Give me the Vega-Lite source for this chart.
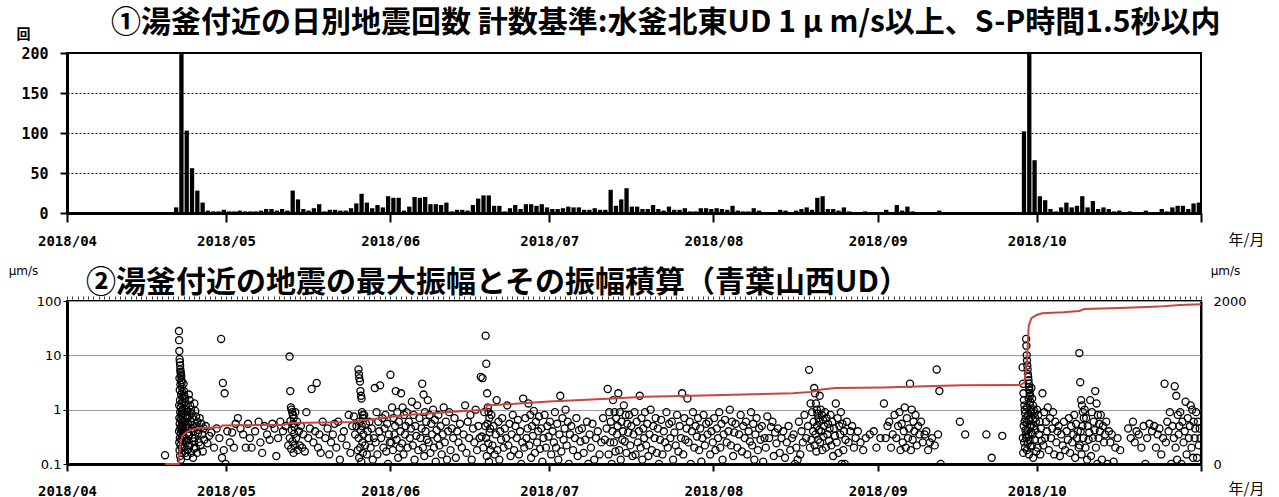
{
"$schema":"https://vega.github.io/schema/vega-lite/v6.json",
"background":"white",
"padding":{"left":7,"top":7,"right":10,"bottom":2},
"spacing":88,
"bounds":"flush",
"config":{"view":{"stroke":"black","strokeWidth":2},"axis":{"labelColor":"black","domainColor":"black","tickColor":"black","titleColor":"black"}},
"datasets":{
"bars":[{"d":"2018/04/21","n":7},{"d":"2018/04/22","n":200},{"d":"2018/04/23","n":103},{"d":"2018/04/24","n":56},{"d":"2018/04/25","n":28},{"d":"2018/04/26","n":13},{"d":"2018/04/27","n":3},{"d":"2018/04/28","n":2},{"d":"2018/04/29","n":2},{"d":"2018/04/30","n":4},
{"d":"2018/05/01","n":2},{"d":"2018/05/02","n":2},{"d":"2018/05/03","n":3},{"d":"2018/05/04","n":2},{"d":"2018/05/05","n":2},{"d":"2018/05/06","n":2},{"d":"2018/05/07","n":3},{"d":"2018/05/08","n":5},{"d":"2018/05/09","n":5},{"d":"2018/05/10","n":3},{"d":"2018/05/11","n":5},{"d":"2018/05/12","n":3},{"d":"2018/05/13","n":28},{"d":"2018/05/14","n":17},{"d":"2018/05/15","n":5},{"d":"2018/05/16","n":3},{"d":"2018/05/17","n":6},{"d":"2018/05/18","n":11},{"d":"2018/05/19","n":2},{"d":"2018/05/20","n":4},{"d":"2018/05/21","n":4},{"d":"2018/05/22","n":3},{"d":"2018/05/23","n":3},{"d":"2018/05/24","n":6},{"d":"2018/05/25","n":12},{"d":"2018/05/26","n":24},{"d":"2018/05/27","n":13},{"d":"2018/05/28","n":6},{"d":"2018/05/29","n":10},{"d":"2018/05/30","n":7},{"d":"2018/05/31","n":21},
{"d":"2018/06/01","n":19},{"d":"2018/06/02","n":19},{"d":"2018/06/03","n":3},{"d":"2018/06/04","n":8},{"d":"2018/06/05","n":20},{"d":"2018/06/06","n":19},{"d":"2018/06/07","n":20},{"d":"2018/06/08","n":11},{"d":"2018/06/09","n":11},{"d":"2018/06/10","n":10},{"d":"2018/06/11","n":13},{"d":"2018/06/12","n":2},{"d":"2018/06/13","n":4},{"d":"2018/06/14","n":4},{"d":"2018/06/15","n":3},{"d":"2018/06/16","n":10},{"d":"2018/06/17","n":18},{"d":"2018/06/18","n":22},{"d":"2018/06/19","n":22},{"d":"2018/06/20","n":9},{"d":"2018/06/21","n":9},{"d":"2018/06/22","n":2},{"d":"2018/06/23","n":6},{"d":"2018/06/24","n":10},{"d":"2018/06/25","n":5},{"d":"2018/06/26","n":11},{"d":"2018/06/27","n":11},{"d":"2018/06/28","n":9},{"d":"2018/06/29","n":11},{"d":"2018/06/30","n":7},
{"d":"2018/07/01","n":5},{"d":"2018/07/02","n":5},{"d":"2018/07/03","n":6},{"d":"2018/07/04","n":8},{"d":"2018/07/05","n":7},{"d":"2018/07/06","n":7},{"d":"2018/07/07","n":4},{"d":"2018/07/08","n":4},{"d":"2018/07/09","n":6},{"d":"2018/07/10","n":4},{"d":"2018/07/11","n":4},{"d":"2018/07/12","n":29},{"d":"2018/07/13","n":9},{"d":"2018/07/14","n":17},{"d":"2018/07/15","n":31},{"d":"2018/07/16","n":8},{"d":"2018/07/17","n":8},{"d":"2018/07/18","n":5},{"d":"2018/07/19","n":5},{"d":"2018/07/20","n":10},{"d":"2018/07/21","n":5},{"d":"2018/07/22","n":3},{"d":"2018/07/23","n":8},{"d":"2018/07/24","n":4},{"d":"2018/07/25","n":4},{"d":"2018/07/26","n":6},{"d":"2018/07/27","n":2},{"d":"2018/07/28","n":2},{"d":"2018/07/29","n":6},{"d":"2018/07/30","n":6},{"d":"2018/07/31","n":5},
{"d":"2018/08/01","n":6},{"d":"2018/08/02","n":5},{"d":"2018/08/03","n":4},{"d":"2018/08/04","n":9},{"d":"2018/08/05","n":3},{"d":"2018/08/06","n":2},{"d":"2018/08/07","n":2},{"d":"2018/08/08","n":6},{"d":"2018/08/09","n":3},{"d":"2018/08/10","n":1},{"d":"2018/08/11","n":1},{"d":"2018/08/12","n":1},{"d":"2018/08/13","n":4},{"d":"2018/08/14","n":3},{"d":"2018/08/15","n":1},{"d":"2018/08/16","n":3},{"d":"2018/08/17","n":5},{"d":"2018/08/18","n":7},{"d":"2018/08/19","n":4},{"d":"2018/08/20","n":19},{"d":"2018/08/21","n":21},{"d":"2018/08/22","n":5},{"d":"2018/08/23","n":5},{"d":"2018/08/24","n":3},{"d":"2018/08/25","n":7},{"d":"2018/08/26","n":2},{"d":"2018/08/27","n":1},{"d":"2018/08/28","n":1},{"d":"2018/08/29","n":2},{"d":"2018/08/30","n":1},
{"d":"2018/09/01","n":1},{"d":"2018/09/02","n":4},{"d":"2018/09/03","n":1},{"d":"2018/09/04","n":10},{"d":"2018/09/05","n":3},{"d":"2018/09/06","n":8},{"d":"2018/09/07","n":2},{"d":"2018/09/08","n":1},{"d":"2018/09/09","n":1},{"d":"2018/09/10","n":1},{"d":"2018/09/11","n":1},{"d":"2018/09/12","n":3},{"d":"2018/09/28","n":102},{"d":"2018/09/29","n":200},{"d":"2018/09/30","n":66},
{"d":"2018/10/01","n":21},{"d":"2018/10/02","n":16},{"d":"2018/10/03","n":5},{"d":"2018/10/04","n":2},{"d":"2018/10/05","n":7},{"d":"2018/10/06","n":13},{"d":"2018/10/07","n":7},{"d":"2018/10/08","n":9},{"d":"2018/10/09","n":21},{"d":"2018/10/10","n":7},{"d":"2018/10/11","n":15},{"d":"2018/10/12","n":5},{"d":"2018/10/13","n":7},{"d":"2018/10/14","n":5},{"d":"2018/10/15","n":2},{"d":"2018/10/16","n":3},{"d":"2018/10/17","n":1},{"d":"2018/10/18","n":2},{"d":"2018/10/19","n":1},{"d":"2018/10/20","n":1},{"d":"2018/10/21","n":3},{"d":"2018/10/22","n":1},{"d":"2018/10/23","n":1},{"d":"2018/10/24","n":5},{"d":"2018/10/25","n":2},{"d":"2018/10/26","n":7},{"d":"2018/10/27","n":9},{"d":"2018/10/28","n":9},{"d":"2018/10/29","n":5},{"d":"2018/10/30","n":12},{"d":"2018/10/31","n":13}],
"cum":[{"t":"2018/4/19 12:00","c":0},{"t":"2018/4/22 2:30","c":0},{"t":"2018/4/22 6:00","c":150},{"t":"2018/4/22 12:00","c":290},{"t":"2018/4/22 20:00","c":345},{"t":"2018/4/23 12:00","c":390},{"t":"2018/4/24 12:00","c":420},{"t":"2018/4/26 0:00","c":440},{"t":"2018/4/29 0:00","c":448},{"t":"2018/4/30 0:00","c":452},{"t":"2018/4/30 8:00","c":472},{"t":"2018/5/12 0:00","c":483},{"t":"2018/5/13 6:00","c":502},{"t":"2018/5/25 0:00","c":515},{"t":"2018/5/26 8:00","c":531},{"t":"2018/6/4 0:00","c":600},{"t":"2018/6/15 0:00","c":650},{"t":"2018/6/19 0:00","c":665},{"t":"2018/6/19 6:00","c":718},{"t":"2018/6/26 0:00","c":745},{"t":"2018/7/1 0:00","c":767},{"t":"2018/7/13 0:00","c":805},{"t":"2018/7/19 0:00","c":824},{"t":"2018/7/28 0:00","c":836},{"t":"2018/8/16 0:00","c":869},{"t":"2018/8/19 12:00","c":885},{"t":"2018/8/21 0:00","c":910},{"t":"2018/8/24 0:00","c":931},{"t":"2018/9/2 0:00","c":940},{"t":"2018/9/10 0:00","c":955},{"t":"2018/9/17 0:00","c":967},{"t":"2018/9/28 0:00","c":971},{"t":"2018/9/28 16:00","c":1000},{"t":"2018/9/29 4:00","c":1300},{"t":"2018/9/29 12:00","c":1700},{"t":"2018/9/30 0:00","c":1790},{"t":"2018/10/1 0:00","c":1829},{"t":"2018/10/2 0:00","c":1849},{"t":"2018/10/6 0:00","c":1861},{"t":"2018/10/9 0:00","c":1878},{"t":"2018/10/10 0:00","c":1902},{"t":"2018/10/18 0:00","c":1918},{"t":"2018/10/24 0:00","c":1931},{"t":"2018/10/28 0:00","c":1951},{"t":"2018/11/1 0:00","c":1959}],
"pts":[{"t":"2018/4/19 12:00","a":0.145},
{"t":"2018/4/22 3:00","a":28},{"t":"2018/4/22 3:20","a":0.4},{"t":"2018/4/22 3:40","a":19},{"t":"2018/4/22 4:00","a":1.2},{"t":"2018/4/22 4:20","a":0.25},{"t":"2018/4/22 4:40","a":12},{"t":"2018/4/22 5:00","a":0.7},{"t":"2018/4/22 5:20","a":3.8},{"t":"2018/4/22 5:40","a":0.18},{"t":"2018/4/22 6:00","a":8.5},{"t":"2018/4/22 6:20","a":0.55},{"t":"2018/4/22 6:40","a":2.3},{"t":"2018/4/22 7:00","a":0.3},{"t":"2018/4/22 7:20","a":7.5},{"t":"2018/4/22 7:40","a":1.5},{"t":"2018/4/22 8:00","a":0.14},{"t":"2018/4/22 8:20","a":6.5},{"t":"2018/4/22 8:40","a":0.9},{"t":"2018/4/22 9:00","a":0.45},{"t":"2018/4/22 9:20","a":5.5},{"t":"2018/4/22 9:40","a":2.9},{"t":"2018/4/22 10:00","a":0.22},{"t":"2018/4/22 10:20","a":5},{"t":"2018/4/22 10:40","a":1.1},{"t":"2018/4/22 11:00","a":0.36},{"t":"2018/4/22 11:20","a":4.7},{"t":"2018/4/22 11:40","a":0.65},{"t":"2018/4/22 12:00","a":0.12},{"t":"2018/4/22 12:20","a":4.4},{"t":"2018/4/22 12:40","a":1.9},{"t":"2018/4/22 13:00","a":0.28},{"t":"2018/4/22 13:20","a":4.1},{"t":"2018/4/22 13:40","a":0.8},{"t":"2018/4/22 14:00","a":0.5},{"t":"2018/4/22 14:20","a":3.5},{"t":"2018/4/22 14:40","a":1.3},{"t":"2018/4/22 15:00","a":0.2},{"t":"2018/4/22 15:20","a":3.2},{"t":"2018/4/22 15:40","a":0.95},{"t":"2018/4/22 16:00","a":0.42},{"t":"2018/4/22 16:20","a":2.6},{"t":"2018/4/22 16:40","a":0.6},{"t":"2018/4/22 17:00","a":0.16},{"t":"2018/4/22 17:20","a":2.1},{"t":"2018/4/22 17:40","a":1.7},{"t":"2018/4/22 18:00","a":0.33},{"t":"2018/4/22 18:20","a":1.4},{"t":"2018/4/22 18:40","a":0.85},{"t":"2018/4/22 19:00","a":0.26},{"t":"2018/4/22 19:20","a":1.0},{"t":"2018/4/22 19:40","a":0.75},{"t":"2018/4/22 20:00","a":0.39},{"t":"2018/4/22 20:20","a":0.48},{"t":"2018/4/22 20:40","a":0.52},
{"t":"2018/4/23 0:00","a":3.0},{"t":"2018/4/23 1:00","a":0.4},{"t":"2018/4/23 2:00","a":2.2},{"t":"2018/4/23 3:00","a":0.2},{"t":"2018/4/23 4:00","a":1.8},{"t":"2018/4/23 5:00","a":0.6},{"t":"2018/4/23 6:00","a":1.6},{"t":"2018/4/23 7:00","a":0.3},{"t":"2018/4/23 8:00","a":1.4},{"t":"2018/4/23 9:00","a":0.16},{"t":"2018/4/23 10:00","a":1.2},{"t":"2018/4/23 11:00","a":0.8},{"t":"2018/4/23 12:00","a":0.25},{"t":"2018/4/23 13:00","a":1.0},{"t":"2018/4/23 14:00","a":0.5},{"t":"2018/4/23 15:00","a":0.9},{"t":"2018/4/23 16:00","a":0.14},{"t":"2018/4/23 17:00","a":0.75},{"t":"2018/4/23 18:00","a":0.37},{"t":"2018/4/23 19:00","a":0.7},{"t":"2018/4/23 20:00","a":0.22},{"t":"2018/4/23 21:00","a":0.55},{"t":"2018/4/23 22:00","a":0.45},{"t":"2018/4/23 23:00","a":0.34},{"t":"2018/4/23 12:30","a":0.27},{"t":"2018/4/23 18:30","a":0.18},
{"t":"2018/4/24 0:00","a":1.9},{"t":"2018/4/24 1:00","a":0.35},{"t":"2018/4/24 3:00","a":1.5},{"t":"2018/4/24 4:00","a":0.22},{"t":"2018/4/24 6:00","a":1.2},{"t":"2018/4/24 7:00","a":0.6},{"t":"2018/4/24 9:00","a":1.0},{"t":"2018/4/24 10:00","a":0.16},{"t":"2018/4/24 12:00","a":0.85},{"t":"2018/4/24 13:00","a":0.45},{"t":"2018/4/24 15:00","a":0.7},{"t":"2018/4/24 16:00","a":0.3},{"t":"2018/4/24 18:00","a":0.52},{"t":"2018/4/24 19:00","a":0.13},{"t":"2018/4/24 21:00","a":0.4},{"t":"2018/4/24 22:00","a":0.26},{"t":"2018/4/24 23:00","a":0.19},
{"t":"2018/4/25 1:00","a":1.3},{"t":"2018/4/25 3:00","a":0.3},{"t":"2018/4/25 5:00","a":0.95},{"t":"2018/4/25 7:00","a":0.2},{"t":"2018/4/25 9:00","a":0.75},{"t":"2018/4/25 11:00","a":0.5},{"t":"2018/4/25 13:00","a":0.16},{"t":"2018/4/25 15:00","a":0.6},{"t":"2018/4/25 17:00","a":0.36},{"t":"2018/4/25 19:00","a":0.42},{"t":"2018/4/25 21:00","a":0.25},
{"t":"2018/4/26 1:00","a":0.7},{"t":"2018/4/26 5:00","a":0.22},{"t":"2018/4/26 8:00","a":0.55},{"t":"2018/4/26 12:00","a":0.35},{"t":"2018/4/26 15:00","a":0.17},{"t":"2018/4/26 19:00","a":0.45},{"t":"2018/4/26 22:00","a":0.28},
{"t":"2018/4/27 4:00","a":0.5},{"t":"2018/4/27 12:00","a":0.24},{"t":"2018/4/27 20:00","a":0.33},{"t":"2018/4/28 6:00","a":0.38},{"t":"2018/4/28 18:00","a":0.2},{"t":"2018/4/29 6:00","a":0.45},{"t":"2018/4/29 18:00","a":0.3},
{"t":"2018/4/30 2:00","a":20},{"t":"2018/4/30 6:00","a":0.13},{"t":"2018/4/30 10:00","a":3.1},{"t":"2018/4/30 14:00","a":0.18},{"t":"2018/4/30 18:00","a":2.0},{"t":"2018/4/30 22:00","a":0.1},
{"t":"2018/5/1 6:00","a":0.4},{"t":"2018/5/1 18:00","a":0.25},{"t":"2018/5/2 4:00","a":0.38},{"t":"2018/5/2 12:00","a":0.2},{"t":"2018/5/2 20:00","a":0.55},{"t":"2018/5/3 6:00","a":0.7},{"t":"2018/5/3 18:00","a":0.45},{"t":"2018/5/4 6:00","a":0.35},{"t":"2018/5/4 18:00","a":0.2},{"t":"2018/5/5 4:00","a":0.55},{"t":"2018/5/5 12:00","a":0.3},{"t":"2018/5/5 20:00","a":0.2},{"t":"2018/5/6 12:00","a":0.4},{"t":"2018/5/7 4:00","a":0.6},{"t":"2018/5/7 12:00","a":0.25},{"t":"2018/5/7 20:00","a":0.16},{"t":"2018/5/8 6:00","a":0.5},{"t":"2018/5/8 18:00","a":0.35},{"t":"2018/5/9 6:00","a":0.28},{"t":"2018/5/9 18:00","a":0.55},{"t":"2018/5/10 4:00","a":0.45},{"t":"2018/5/10 12:00","a":0.14},{"t":"2018/5/10 20:00","a":0.3},{"t":"2018/5/11 6:00","a":0.6},{"t":"2018/5/11 18:00","a":0.4},{"t":"2018/5/12 6:00","a":0.5},{"t":"2018/5/12 18:00","a":0.22},
{"t":"2018/5/13 0:00","a":9.5},{"t":"2018/5/13 1:00","a":0.3},{"t":"2018/5/13 3:00","a":2.2},{"t":"2018/5/13 4:00","a":0.62},{"t":"2018/5/13 6:00","a":1.1},{"t":"2018/5/13 7:00","a":0.19},{"t":"2018/5/13 9:00","a":1.0},{"t":"2018/5/13 10:00","a":0.42},{"t":"2018/5/13 12:00","a":0.9},{"t":"2018/5/13 13:00","a":0.26},{"t":"2018/5/13 15:00","a":0.8},{"t":"2018/5/13 16:00","a":0.55},{"t":"2018/5/13 18:00","a":0.16},{"t":"2018/5/13 19:00","a":0.7},{"t":"2018/5/13 21:00","a":0.36},{"t":"2018/5/13 22:00","a":0.48},{"t":"2018/5/13 23:00","a":0.22},
{"t":"2018/5/14 2:00","a":0.9},{"t":"2018/5/14 6:00","a":0.3},{"t":"2018/5/14 10:00","a":0.6},{"t":"2018/5/14 14:00","a":0.18},{"t":"2018/5/14 18:00","a":0.4},{"t":"2018/5/14 22:00","a":0.22},{"t":"2018/5/15 3:00","a":0.5},{"t":"2018/5/15 9:00","a":0.2},{"t":"2018/5/15 15:00","a":0.35},{"t":"2018/5/15 21:00","a":0.17},{"t":"2018/5/16 4:00","a":0.9},{"t":"2018/5/16 12:00","a":0.3},{"t":"2018/5/16 20:00","a":0.45},{"t":"2018/5/17 4:00","a":2.4},{"t":"2018/5/17 12:00","a":0.25},{"t":"2018/5/17 20:00","a":0.4},{"t":"2018/5/18 3:00","a":3.1},{"t":"2018/5/18 9:00","a":0.2},{"t":"2018/5/18 15:00","a":0.35},{"t":"2018/5/18 21:00","a":0.16},{"t":"2018/5/19 6:00","a":0.6},{"t":"2018/5/19 18:00","a":0.3},{"t":"2018/5/20 4:00","a":0.45},{"t":"2018/5/20 12:00","a":0.15},{"t":"2018/5/20 20:00","a":0.25},{"t":"2018/5/21 4:00","a":0.35},{"t":"2018/5/21 12:00","a":0.55},{"t":"2018/5/21 20:00","a":0.2},{"t":"2018/5/22 4:00","a":0.6},{"t":"2018/5/22 12:00","a":0.12},{"t":"2018/5/22 20:00","a":0.3},{"t":"2018/5/23 6:00","a":0.4},{"t":"2018/5/23 18:00","a":0.22},{"t":"2018/5/24 4:00","a":0.8},{"t":"2018/5/24 12:00","a":0.16},{"t":"2018/5/24 20:00","a":0.5},{"t":"2018/5/25 3:00","a":0.75},{"t":"2018/5/25 9:00","a":0.35},{"t":"2018/5/25 15:00","a":0.5},{"t":"2018/5/25 21:00","a":0.18},
{"t":"2018/5/26 0:00","a":5.5},{"t":"2018/5/26 1:00","a":0.3},{"t":"2018/5/26 2:00","a":4.5},{"t":"2018/5/26 3:00","a":0.13},{"t":"2018/5/26 4:00","a":3.8},{"t":"2018/5/26 6:00","a":0.6},{"t":"2018/5/26 7:00","a":3.3},{"t":"2018/5/26 8:00","a":0.2},{"t":"2018/5/26 9:00","a":2.2},{"t":"2018/5/26 10:00","a":0.42},{"t":"2018/5/26 12:00","a":1.8},{"t":"2018/5/26 13:00","a":0.11},{"t":"2018/5/26 14:00","a":1.6},{"t":"2018/5/26 15:00","a":0.5},{"t":"2018/5/26 16:00","a":0.9},{"t":"2018/5/26 18:00","a":0.25},{"t":"2018/5/26 19:00","a":0.8},{"t":"2018/5/26 20:00","a":0.16},{"t":"2018/5/26 21:00","a":0.7},{"t":"2018/5/26 22:00","a":0.35},
{"t":"2018/5/27 2:00","a":0.8},{"t":"2018/5/27 6:00","a":0.22},{"t":"2018/5/27 10:00","a":0.55},{"t":"2018/5/27 14:00","a":0.15},{"t":"2018/5/27 18:00","a":0.4},{"t":"2018/5/27 22:00","a":0.3},{"t":"2018/5/28 2:00","a":0.6},{"t":"2018/5/28 7:00","a":0.2},{"t":"2018/5/28 12:00","a":0.45},{"t":"2018/5/28 17:00","a":0.12},{"t":"2018/5/28 22:00","a":0.3},{"t":"2018/5/29 2:00","a":2.5},{"t":"2018/5/29 6:00","a":0.25},{"t":"2018/5/29 10:00","a":0.9},{"t":"2018/5/29 14:00","a":0.15},{"t":"2018/5/29 18:00","a":0.6},{"t":"2018/5/29 22:00","a":0.4},{"t":"2018/5/30 2:00","a":2.8},{"t":"2018/5/30 7:00","a":0.3},{"t":"2018/5/30 12:00","a":0.7},{"t":"2018/5/30 17:00","a":0.2},{"t":"2018/5/30 22:00","a":0.45},{"t":"2018/5/31 2:00","a":0.8},{"t":"2018/5/31 6:00","a":0.17},{"t":"2018/5/31 10:00","a":0.55},{"t":"2018/5/31 14:00","a":0.1},{"t":"2018/5/31 18:00","a":0.35},{"t":"2018/5/31 22:00","a":0.25},
{"t":"2018/6/1 1:00","a":4.4},{"t":"2018/6/1 5:00","a":0.25},{"t":"2018/6/1 8:00","a":1.1},{"t":"2018/6/1 12:00","a":0.18},{"t":"2018/6/1 15:00","a":0.7},{"t":"2018/6/1 19:00","a":0.35},{"t":"2018/6/1 22:00","a":0.5},{"t":"2018/6/2 1:00","a":2.2},{"t":"2018/6/2 5:00","a":0.28},{"t":"2018/6/2 8:00","a":0.9},{"t":"2018/6/2 12:00","a":0.13},{"t":"2018/6/2 15:00","a":0.6},{"t":"2018/6/2 19:00","a":0.2},{"t":"2018/6/2 22:00","a":0.4},{"t":"2018/6/3 1:00","a":2.0},{"t":"2018/6/3 5:00","a":0.24},{"t":"2018/6/3 8:00","a":1.1},{"t":"2018/6/3 12:00","a":0.15},{"t":"2018/6/3 15:00","a":0.8},{"t":"2018/6/3 19:00","a":0.35},{"t":"2018/6/3 22:00","a":0.5},
{"t":"2018/6/4 2:00","a":0.9},{"t":"2018/6/4 7:00","a":0.2},{"t":"2018/6/4 12:00","a":0.6},{"t":"2018/6/4 17:00","a":0.3},{"t":"2018/6/4 22:00","a":0.45},{"t":"2018/6/5 2:00","a":1.4},{"t":"2018/6/5 6:00","a":0.22},{"t":"2018/6/5 10:00","a":0.8},{"t":"2018/6/5 14:00","a":0.12},{"t":"2018/6/5 18:00","a":0.5},{"t":"2018/6/5 22:00","a":0.33},{"t":"2018/6/6 2:00","a":1.2},{"t":"2018/6/6 7:00","a":0.18},{"t":"2018/6/6 12:00","a":0.7},{"t":"2018/6/6 17:00","a":0.3},{"t":"2018/6/6 22:00","a":0.45},
{"t":"2018/6/7 1:00","a":3.0},{"t":"2018/6/7 4:00","a":0.2},{"t":"2018/6/7 7:00","a":1.9},{"t":"2018/6/7 10:00","a":0.14},{"t":"2018/6/7 13:00","a":0.9},{"t":"2018/6/7 16:00","a":0.4},{"t":"2018/6/7 19:00","a":0.6},{"t":"2018/6/7 22:00","a":0.28},{"t":"2018/6/8 2:00","a":1.5},{"t":"2018/6/8 6:00","a":0.25},{"t":"2018/6/8 10:00","a":0.8},{"t":"2018/6/8 14:00","a":0.16},{"t":"2018/6/8 18:00","a":0.55},{"t":"2018/6/8 22:00","a":0.35},{"t":"2018/6/9 2:00","a":1.0},{"t":"2018/6/9 6:00","a":0.2},{"t":"2018/6/9 10:00","a":0.65},{"t":"2018/6/9 14:00","a":0.11},{"t":"2018/6/9 18:00","a":0.42},{"t":"2018/6/9 22:00","a":0.3},
{"t":"2018/6/10 2:00","a":0.8},{"t":"2018/6/10 7:00","a":0.22},{"t":"2018/6/10 12:00","a":0.5},{"t":"2018/6/10 17:00","a":0.15},{"t":"2018/6/10 22:00","a":0.35},{"t":"2018/6/11 2:00","a":1.1},{"t":"2018/6/11 7:00","a":0.25},{"t":"2018/6/11 12:00","a":0.6},{"t":"2018/6/11 17:00","a":0.12},{"t":"2018/6/11 22:00","a":0.4},{"t":"2018/6/12 3:00","a":0.9},{"t":"2018/6/12 9:00","a":0.18},{"t":"2018/6/12 15:00","a":0.45},{"t":"2018/6/12 21:00","a":0.3},{"t":"2018/6/13 3:00","a":0.7},{"t":"2018/6/13 9:00","a":0.13},{"t":"2018/6/13 15:00","a":0.4},{"t":"2018/6/13 21:00","a":0.25},{"t":"2018/6/14 4:00","a":0.55},{"t":"2018/6/14 12:00","a":0.2},{"t":"2018/6/14 20:00","a":0.35},{"t":"2018/6/15 3:00","a":1.2},{"t":"2018/6/15 9:00","a":0.16},{"t":"2018/6/15 15:00","a":0.6},{"t":"2018/6/15 21:00","a":0.3},{"t":"2018/6/16 3:00","a":0.8},{"t":"2018/6/16 9:00","a":0.12},{"t":"2018/6/16 15:00","a":0.45},{"t":"2018/6/16 21:00","a":0.25},{"t":"2018/6/17 3:00","a":1.0},{"t":"2018/6/17 9:00","a":0.18},{"t":"2018/6/17 15:00","a":0.5},{"t":"2018/6/17 21:00","a":0.3},
{"t":"2018/6/18 2:00","a":4.0},{"t":"2018/6/18 6:00","a":0.32},{"t":"2018/6/18 10:00","a":3.8},{"t":"2018/6/18 14:00","a":0.2},{"t":"2018/6/18 18:00","a":0.9},{"t":"2018/6/18 22:00","a":0.5},
{"t":"2018/6/19 0:00","a":23},{"t":"2018/6/19 2:00","a":0.3},{"t":"2018/6/19 3:00","a":7},{"t":"2018/6/19 5:00","a":0.14},{"t":"2018/6/19 7:00","a":2.0},{"t":"2018/6/19 8:00","a":0.55},{"t":"2018/6/19 10:00","a":1.1},{"t":"2018/6/19 12:00","a":0.24},{"t":"2018/6/19 13:00","a":0.9},{"t":"2018/6/19 15:00","a":0.11},{"t":"2018/6/19 17:00","a":0.7},{"t":"2018/6/19 18:00","a":0.38},{"t":"2018/6/19 20:00","a":0.45},{"t":"2018/6/19 22:00","a":0.18},
{"t":"2018/6/20 2:00","a":0.8},{"t":"2018/6/20 7:00","a":0.22},{"t":"2018/6/20 12:00","a":0.5},{"t":"2018/6/20 17:00","a":0.15},{"t":"2018/6/20 22:00","a":0.35},{"t":"2018/6/21 2:00","a":1.5},{"t":"2018/6/21 6:00","a":0.18},{"t":"2018/6/21 10:00","a":0.6},{"t":"2018/6/21 14:00","a":0.12},{"t":"2018/6/21 18:00","a":0.4},{"t":"2018/6/21 22:00","a":0.28},{"t":"2018/6/22 3:00","a":0.7},{"t":"2018/6/22 9:00","a":0.2},{"t":"2018/6/22 15:00","a":0.45},{"t":"2018/6/22 21:00","a":0.3},{"t":"2018/6/23 2:00","a":1.2},{"t":"2018/6/23 7:00","a":0.22},{"t":"2018/6/23 12:00","a":0.55},{"t":"2018/6/23 17:00","a":0.14},{"t":"2018/6/23 22:00","a":0.35},{"t":"2018/6/24 3:00","a":0.8},{"t":"2018/6/24 9:00","a":0.18},{"t":"2018/6/24 15:00","a":0.5},{"t":"2018/6/24 21:00","a":0.3},{"t":"2018/6/25 2:00","a":0.65},{"t":"2018/6/25 7:00","a":0.15},{"t":"2018/6/25 12:00","a":0.4},{"t":"2018/6/25 17:00","a":0.1},{"t":"2018/6/25 22:00","a":0.25},
{"t":"2018/6/26 2:00","a":1.6},{"t":"2018/6/26 7:00","a":0.2},{"t":"2018/6/26 12:00","a":0.7},{"t":"2018/6/26 17:00","a":0.3},{"t":"2018/6/26 22:00","a":0.45},{"t":"2018/6/27 2:00","a":1.3},{"t":"2018/6/27 6:00","a":0.22},{"t":"2018/6/27 10:00","a":0.8},{"t":"2018/6/27 14:00","a":0.13},{"t":"2018/6/27 18:00","a":0.5},{"t":"2018/6/27 22:00","a":0.33},{"t":"2018/6/28 2:00","a":0.95},{"t":"2018/6/28 7:00","a":0.16},{"t":"2018/6/28 12:00","a":0.6},{"t":"2018/6/28 17:00","a":0.25},{"t":"2018/6/28 22:00","a":0.4},{"t":"2018/6/29 2:00","a":0.75},{"t":"2018/6/29 7:00","a":0.19},{"t":"2018/6/29 12:00","a":0.45},{"t":"2018/6/29 17:00","a":0.11},{"t":"2018/6/29 22:00","a":0.3},{"t":"2018/6/30 3:00","a":0.8},{"t":"2018/6/30 9:00","a":0.2},{"t":"2018/6/30 15:00","a":0.5},{"t":"2018/6/30 21:00","a":0.32},
{"t":"2018/7/1 3:00","a":0.6},{"t":"2018/7/1 9:00","a":0.15},{"t":"2018/7/1 15:00","a":0.4},{"t":"2018/7/1 21:00","a":0.25},{"t":"2018/7/2 2:00","a":0.9},{"t":"2018/7/2 7:00","a":0.2},{"t":"2018/7/2 12:00","a":0.55},{"t":"2018/7/2 17:00","a":0.12},{"t":"2018/7/2 22:00","a":0.35},{"t":"2018/7/3 2:00","a":1.8},{"t":"2018/7/3 7:00","a":0.17},{"t":"2018/7/3 12:00","a":0.7},{"t":"2018/7/3 17:00","a":0.28},{"t":"2018/7/3 22:00","a":0.45},{"t":"2018/7/4 2:00","a":1.0},{"t":"2018/7/4 7:00","a":0.22},{"t":"2018/7/4 12:00","a":0.6},{"t":"2018/7/4 17:00","a":0.1},{"t":"2018/7/4 22:00","a":0.35},{"t":"2018/7/5 4:00","a":0.5},{"t":"2018/7/5 12:00","a":0.18},{"t":"2018/7/5 20:00","a":0.3},{"t":"2018/7/6 3:00","a":0.7},{"t":"2018/7/6 9:00","a":0.14},{"t":"2018/7/6 15:00","a":0.42},{"t":"2018/7/6 21:00","a":0.26},{"t":"2018/7/7 4:00","a":0.45},{"t":"2018/7/7 12:00","a":0.16},{"t":"2018/7/7 20:00","a":0.28},{"t":"2018/7/8 3:00","a":0.6},{"t":"2018/7/8 9:00","a":0.1},{"t":"2018/7/8 15:00","a":0.35},{"t":"2018/7/8 21:00","a":0.2},{"t":"2018/7/9 4:00","a":0.55},{"t":"2018/7/9 12:00","a":0.12},{"t":"2018/7/9 20:00","a":0.3},{"t":"2018/7/10 4:00","a":0.4},{"t":"2018/7/10 12:00","a":0.15},{"t":"2018/7/10 20:00","a":0.25},{"t":"2018/7/11 4:00","a":0.7},{"t":"2018/7/11 12:00","a":0.28},{"t":"2018/7/11 20:00","a":0.45},
{"t":"2018/7/12 1:00","a":2.4},{"t":"2018/7/12 5:00","a":0.15},{"t":"2018/7/12 8:00","a":0.9},{"t":"2018/7/12 12:00","a":0.25},{"t":"2018/7/12 15:00","a":0.6},{"t":"2018/7/12 19:00","a":0.1},{"t":"2018/7/12 22:00","a":0.4},{"t":"2018/7/13 1:00","a":1.5},{"t":"2018/7/13 5:00","a":0.25},{"t":"2018/7/13 8:00","a":0.9},{"t":"2018/7/13 12:00","a":0.17},{"t":"2018/7/13 15:00","a":0.7},{"t":"2018/7/13 19:00","a":0.35},{"t":"2018/7/13 22:00","a":0.5},{"t":"2018/7/14 1:00","a":2.0},{"t":"2018/7/14 5:00","a":0.18},{"t":"2018/7/14 8:00","a":0.9},{"t":"2018/7/14 12:00","a":0.12},{"t":"2018/7/14 15:00","a":0.6},{"t":"2018/7/14 19:00","a":0.28},{"t":"2018/7/14 22:00","a":0.4},{"t":"2018/7/15 2:00","a":1.2},{"t":"2018/7/15 6:00","a":0.26},{"t":"2018/7/15 10:00","a":0.8},{"t":"2018/7/15 14:00","a":0.16},{"t":"2018/7/15 18:00","a":0.55},{"t":"2018/7/15 22:00","a":0.38},
{"t":"2018/7/16 2:00","a":0.8},{"t":"2018/7/16 7:00","a":0.22},{"t":"2018/7/16 12:00","a":0.5},{"t":"2018/7/16 17:00","a":0.14},{"t":"2018/7/16 22:00","a":0.35},{"t":"2018/7/17 2:00","a":0.9},{"t":"2018/7/17 7:00","a":0.15},{"t":"2018/7/17 12:00","a":0.6},{"t":"2018/7/17 17:00","a":0.25},{"t":"2018/7/17 22:00","a":0.4},{"t":"2018/7/18 2:00","a":1.8},{"t":"2018/7/18 6:00","a":0.2},{"t":"2018/7/18 10:00","a":0.7},{"t":"2018/7/18 14:00","a":0.12},{"t":"2018/7/18 18:00","a":0.45},{"t":"2018/7/18 22:00","a":0.3},{"t":"2018/7/19 2:00","a":0.9},{"t":"2018/7/19 7:00","a":0.22},{"t":"2018/7/19 12:00","a":0.55},{"t":"2018/7/19 17:00","a":0.14},{"t":"2018/7/19 22:00","a":0.35},{"t":"2018/7/20 3:00","a":1.0},{"t":"2018/7/20 9:00","a":0.18},{"t":"2018/7/20 15:00","a":0.5},{"t":"2018/7/20 21:00","a":0.3},{"t":"2018/7/21 2:00","a":0.7},{"t":"2018/7/21 7:00","a":0.16},{"t":"2018/7/21 12:00","a":0.45},{"t":"2018/7/21 17:00","a":0.1},{"t":"2018/7/21 22:00","a":0.28},{"t":"2018/7/22 3:00","a":0.65},{"t":"2018/7/22 9:00","a":0.15},{"t":"2018/7/22 15:00","a":0.4},{"t":"2018/7/22 21:00","a":0.25},{"t":"2018/7/23 3:00","a":0.9},{"t":"2018/7/23 9:00","a":0.2},{"t":"2018/7/23 15:00","a":0.55},{"t":"2018/7/23 21:00","a":0.3},{"t":"2018/7/24 3:00","a":0.6},{"t":"2018/7/24 9:00","a":0.12},{"t":"2018/7/24 15:00","a":0.38},{"t":"2018/7/24 21:00","a":0.22},{"t":"2018/7/25 3:00","a":0.8},{"t":"2018/7/25 9:00","a":0.17},{"t":"2018/7/25 15:00","a":0.5},{"t":"2018/7/25 21:00","a":0.3},
{"t":"2018/7/26 2:00","a":2.0},{"t":"2018/7/26 7:00","a":0.15},{"t":"2018/7/26 12:00","a":0.7},{"t":"2018/7/26 17:00","a":0.28},{"t":"2018/7/26 22:00","a":0.45},{"t":"2018/7/27 2:00","a":1.6},{"t":"2018/7/27 7:00","a":0.25},{"t":"2018/7/27 12:00","a":0.6},{"t":"2018/7/27 17:00","a":0.1},{"t":"2018/7/27 22:00","a":0.4},{"t":"2018/7/28 3:00","a":0.9},{"t":"2018/7/28 9:00","a":0.2},{"t":"2018/7/28 15:00","a":0.5},{"t":"2018/7/28 21:00","a":0.32},{"t":"2018/7/29 2:00","a":0.7},{"t":"2018/7/29 7:00","a":0.18},{"t":"2018/7/29 12:00","a":0.45},{"t":"2018/7/29 17:00","a":0.11},{"t":"2018/7/29 22:00","a":0.3},{"t":"2018/7/30 3:00","a":0.8},{"t":"2018/7/30 9:00","a":0.22},{"t":"2018/7/30 15:00","a":0.55},{"t":"2018/7/30 21:00","a":0.35},{"t":"2018/7/31 3:00","a":0.6},{"t":"2018/7/31 9:00","a":0.15},{"t":"2018/7/31 15:00","a":0.4},{"t":"2018/7/31 21:00","a":0.25},
{"t":"2018/8/1 3:00","a":0.7},{"t":"2018/8/1 9:00","a":0.18},{"t":"2018/8/1 15:00","a":0.45},{"t":"2018/8/1 21:00","a":0.3},{"t":"2018/8/2 2:00","a":0.9},{"t":"2018/8/2 7:00","a":0.2},{"t":"2018/8/2 12:00","a":0.55},{"t":"2018/8/2 17:00","a":0.12},{"t":"2018/8/2 22:00","a":0.35},{"t":"2018/8/3 4:00","a":0.65},{"t":"2018/8/3 12:00","a":0.25},{"t":"2018/8/3 20:00","a":0.4},{"t":"2018/8/4 2:00","a":1.0},{"t":"2018/8/4 7:00","a":0.22},{"t":"2018/8/4 12:00","a":0.6},{"t":"2018/8/4 17:00","a":0.14},{"t":"2018/8/4 22:00","a":0.38},{"t":"2018/8/5 4:00","a":0.55},{"t":"2018/8/5 12:00","a":0.2},{"t":"2018/8/5 20:00","a":0.35},{"t":"2018/8/6 3:00","a":0.8},{"t":"2018/8/6 9:00","a":0.17},{"t":"2018/8/6 15:00","a":0.5},{"t":"2018/8/6 21:00","a":0.3},{"t":"2018/8/7 3:00","a":0.6},{"t":"2018/8/7 9:00","a":0.15},{"t":"2018/8/7 15:00","a":0.4},{"t":"2018/8/7 21:00","a":0.26},{"t":"2018/8/8 2:00","a":0.9},{"t":"2018/8/8 7:00","a":0.22},{"t":"2018/8/8 12:00","a":0.55},{"t":"2018/8/8 17:00","a":0.12},{"t":"2018/8/8 22:00","a":0.35},{"t":"2018/8/9 3:00","a":0.7},{"t":"2018/8/9 9:00","a":0.18},{"t":"2018/8/9 15:00","a":0.45},{"t":"2018/8/9 21:00","a":0.28},{"t":"2018/8/10 3:00","a":0.5},{"t":"2018/8/10 9:00","a":0.11},{"t":"2018/8/10 15:00","a":0.3},{"t":"2018/8/10 21:00","a":0.2},{"t":"2018/8/11 4:00","a":0.75},{"t":"2018/8/11 12:00","a":0.3},{"t":"2018/8/11 20:00","a":0.48},{"t":"2018/8/12 3:00","a":0.6},{"t":"2018/8/12 9:00","a":0.14},{"t":"2018/8/12 15:00","a":0.38},{"t":"2018/8/12 21:00","a":0.24},{"t":"2018/8/13 4:00","a":0.45},{"t":"2018/8/13 12:00","a":0.16},{"t":"2018/8/13 20:00","a":0.3},{"t":"2018/8/14 4:00","a":0.4},{"t":"2018/8/14 12:00","a":0.13},{"t":"2018/8/14 20:00","a":0.25},{"t":"2018/8/15 4:00","a":0.5},{"t":"2018/8/15 12:00","a":0.18},{"t":"2018/8/15 20:00","a":0.3},{"t":"2018/8/16 3:00","a":0.35},{"t":"2018/8/16 9:00","a":0.1},{"t":"2018/8/16 15:00","a":0.2},{"t":"2018/8/16 21:00","a":0.12},{"t":"2018/8/17 3:00","a":0.6},{"t":"2018/8/17 9:00","a":0.15},{"t":"2018/8/17 15:00","a":0.4},{"t":"2018/8/17 21:00","a":0.25},{"t":"2018/8/18 4:00","a":0.8},{"t":"2018/8/18 12:00","a":0.3},{"t":"2018/8/18 20:00","a":0.5},
{"t":"2018/8/19 1:00","a":5.4},{"t":"2018/8/19 5:00","a":0.2},{"t":"2018/8/19 8:00","a":1.3},{"t":"2018/8/19 12:00","a":0.28},{"t":"2018/8/19 15:00","a":0.9},{"t":"2018/8/19 19:00","a":0.4},{"t":"2018/8/19 22:00","a":0.6},
{"t":"2018/8/20 0:00","a":2.5},{"t":"2018/8/20 2:00","a":0.22},{"t":"2018/8/20 4:00","a":2.0},{"t":"2018/8/20 6:00","a":0.35},{"t":"2018/8/20 8:00","a":1.3},{"t":"2018/8/20 10:00","a":0.17},{"t":"2018/8/20 12:00","a":1.0},{"t":"2018/8/20 13:00","a":0.5},{"t":"2018/8/20 15:00","a":0.85},{"t":"2018/8/20 17:00","a":0.28},{"t":"2018/8/20 19:00","a":0.7},{"t":"2018/8/20 21:00","a":0.42},{"t":"2018/8/20 23:00","a":0.6},
{"t":"2018/8/21 1:00","a":1.8},{"t":"2018/8/21 3:00","a":0.25},{"t":"2018/8/21 6:00","a":1.0},{"t":"2018/8/21 8:00","a":0.4},{"t":"2018/8/21 11:00","a":0.8},{"t":"2018/8/21 13:00","a":0.18},{"t":"2018/8/21 16:00","a":0.65},{"t":"2018/8/21 18:00","a":0.32},{"t":"2018/8/21 21:00","a":0.5},
{"t":"2018/8/22 1:00","a":0.9},{"t":"2018/8/22 5:00","a":0.2},{"t":"2018/8/22 8:00","a":0.7},{"t":"2018/8/22 12:00","a":0.35},{"t":"2018/8/22 15:00","a":0.55},{"t":"2018/8/22 19:00","a":0.27},{"t":"2018/8/22 22:00","a":0.45},{"t":"2018/8/23 2:00","a":0.8},{"t":"2018/8/23 6:00","a":0.22},{"t":"2018/8/23 10:00","a":0.6},{"t":"2018/8/23 14:00","a":0.14},{"t":"2018/8/23 18:00","a":0.45},{"t":"2018/8/23 22:00","a":0.33},{"t":"2018/8/24 2:00","a":1.3},{"t":"2018/8/24 6:00","a":0.25},{"t":"2018/8/24 10:00","a":0.7},{"t":"2018/8/24 14:00","a":0.16},{"t":"2018/8/24 18:00","a":0.5},{"t":"2018/8/24 22:00","a":0.35},{"t":"2018/8/25 1:00","a":0.9},{"t":"2018/8/25 5:00","a":0.1},{"t":"2018/8/25 8:00","a":0.55},{"t":"2018/8/25 12:00","a":0.18},{"t":"2018/8/25 15:00","a":0.4},{"t":"2018/8/25 19:00","a":0.1},{"t":"2018/8/25 22:00","a":0.28},
{"t":"2018/8/26 4:00","a":0.6},{"t":"2018/8/26 12:00","a":0.25},{"t":"2018/8/26 20:00","a":0.4},{"t":"2018/8/27 4:00","a":0.5},{"t":"2018/8/27 12:00","a":0.2},{"t":"2018/8/27 20:00","a":0.3},{"t":"2018/8/28 6:00","a":0.4},{"t":"2018/8/28 18:00","a":0.25},{"t":"2018/8/29 6:00","a":0.18},{"t":"2018/8/29 18:00","a":0.3},{"t":"2018/8/30 12:00","a":0.35},{"t":"2018/8/31 6:00","a":0.4},{"t":"2018/8/31 18:00","a":0.2},
{"t":"2018/9/1 12:00","a":0.3},{"t":"2018/9/2 4:00","a":1.3},{"t":"2018/9/2 12:00","a":0.3},{"t":"2018/9/2 20:00","a":0.5},{"t":"2018/9/3 4:00","a":0.6},{"t":"2018/9/3 12:00","a":0.2},{"t":"2018/9/3 20:00","a":0.35},{"t":"2018/9/4 4:00","a":0.8},{"t":"2018/9/4 12:00","a":0.3},{"t":"2018/9/4 20:00","a":0.5},{"t":"2018/9/5 2:00","a":0.9},{"t":"2018/9/5 7:00","a":0.18},{"t":"2018/9/5 12:00","a":0.55},{"t":"2018/9/5 17:00","a":0.25},{"t":"2018/9/5 22:00","a":0.4},{"t":"2018/9/6 2:00","a":1.1},{"t":"2018/9/6 7:00","a":0.2},{"t":"2018/9/6 12:00","a":0.7},{"t":"2018/9/6 17:00","a":0.3},{"t":"2018/9/6 22:00","a":0.45},{"t":"2018/9/7 2:00","a":3.0},{"t":"2018/9/7 6:00","a":0.18},{"t":"2018/9/7 10:00","a":1.0},{"t":"2018/9/7 14:00","a":0.28},{"t":"2018/9/7 18:00","a":0.6},{"t":"2018/9/7 22:00","a":0.4},{"t":"2018/9/8 3:00","a":0.8},{"t":"2018/9/8 9:00","a":0.22},{"t":"2018/9/8 15:00","a":0.5},{"t":"2018/9/8 21:00","a":0.35},{"t":"2018/9/9 4:00","a":0.6},{"t":"2018/9/9 12:00","a":0.25},{"t":"2018/9/9 20:00","a":0.35},{"t":"2018/9/10 4:00","a":0.4},{"t":"2018/9/10 12:00","a":0.18},{"t":"2018/9/10 20:00","a":0.25},{"t":"2018/9/11 6:00","a":0.3},{"t":"2018/9/11 18:00","a":0.22},{"t":"2018/9/12 3:00","a":5.5},{"t":"2018/9/12 9:00","a":0.35},{"t":"2018/9/12 15:00","a":2.2},{"t":"2018/9/12 21:00","a":0.1},{"t":"2018/9/16 12:00","a":0.6},{"t":"2018/9/17 12:00","a":0.35},{"t":"2018/9/21 12:00","a":0.35},{"t":"2018/9/22 12:00","a":0.13},{"t":"2018/9/24 12:00","a":0.33},
{"t":"2018/9/28 8:00","a":6},{"t":"2018/9/28 9:00","a":0.3},{"t":"2018/9/28 10:00","a":3},{"t":"2018/9/28 11:00","a":0.16},{"t":"2018/9/28 12:00","a":2},{"t":"2018/9/28 13:00","a":0.5},{"t":"2018/9/28 14:00","a":1.5},{"t":"2018/9/28 15:00","a":0.25},{"t":"2018/9/28 16:00","a":1.2},{"t":"2018/9/28 17:00","a":0.6},{"t":"2018/9/28 18:00","a":1.0},{"t":"2018/9/28 19:00","a":0.2},{"t":"2018/9/28 20:00","a":0.85},{"t":"2018/9/28 21:00","a":0.42},{"t":"2018/9/28 22:00","a":0.7},{"t":"2018/9/28 23:00","a":0.35},
{"t":"2018/9/29 0:00","a":20},{"t":"2018/9/29 0:40","a":0.3},{"t":"2018/9/29 1:20","a":15},{"t":"2018/9/29 2:00","a":0.58},{"t":"2018/9/29 2:40","a":10},{"t":"2018/9/29 3:20","a":0.18},{"t":"2018/9/29 4:00","a":8},{"t":"2018/9/29 4:40","a":1.1},{"t":"2018/9/29 5:20","a":6.5},{"t":"2018/9/29 6:00","a":0.42},{"t":"2018/9/29 6:40","a":5.5},{"t":"2018/9/29 7:20","a":0.24},{"t":"2018/9/29 8:00","a":4.5},{"t":"2018/9/29 8:40","a":0.8},{"t":"2018/9/29 9:20","a":4},{"t":"2018/9/29 10:00","a":0.34},{"t":"2018/9/29 10:40","a":3.5},{"t":"2018/9/29 11:20","a":1.6},{"t":"2018/9/29 12:00","a":3},{"t":"2018/9/29 12:40","a":0.15},{"t":"2018/9/29 13:20","a":2.6},{"t":"2018/9/29 14:00","a":0.65},{"t":"2018/9/29 14:40","a":2.3},{"t":"2018/9/29 15:20","a":0.27},{"t":"2018/9/29 16:00","a":2},{"t":"2018/9/29 16:40","a":1.25},{"t":"2018/9/29 17:20","a":1.8},{"t":"2018/9/29 18:00","a":0.47},{"t":"2018/9/29 18:40","a":1.4},{"t":"2018/9/29 19:20","a":0.21},{"t":"2018/9/29 20:00","a":1.0},{"t":"2018/9/29 20:40","a":0.9},{"t":"2018/9/29 21:20","a":0.72},{"t":"2018/9/29 22:00","a":0.52},{"t":"2018/9/29 22:40","a":0.38},
{"t":"2018/9/30 0:00","a":2.5},{"t":"2018/9/30 2:00","a":0.22},{"t":"2018/9/30 3:00","a":1.6},{"t":"2018/9/30 5:00","a":0.35},{"t":"2018/9/30 7:00","a":1.2},{"t":"2018/9/30 8:00","a":0.13},{"t":"2018/9/30 10:00","a":1.0},{"t":"2018/9/30 12:00","a":0.5},{"t":"2018/9/30 13:00","a":0.85},{"t":"2018/9/30 15:00","a":0.28},{"t":"2018/9/30 17:00","a":0.7},{"t":"2018/9/30 18:00","a":0.42},{"t":"2018/9/30 20:00","a":0.6},{"t":"2018/9/30 22:00","a":0.17},
{"t":"2018/10/1 1:00","a":1.0},{"t":"2018/10/1 4:00","a":0.2},{"t":"2018/10/1 7:00","a":0.8},{"t":"2018/10/1 10:00","a":0.35},{"t":"2018/10/1 13:00","a":0.6},{"t":"2018/10/1 16:00","a":0.15},{"t":"2018/10/1 19:00","a":0.45},{"t":"2018/10/1 22:00","a":0.27},{"t":"2018/10/2 2:00","a":2.0},{"t":"2018/10/2 6:00","a":0.22},{"t":"2018/10/2 10:00","a":0.9},{"t":"2018/10/2 14:00","a":0.3},{"t":"2018/10/2 18:00","a":0.6},{"t":"2018/10/2 22:00","a":0.4},{"t":"2018/10/3 2:00","a":1.1},{"t":"2018/10/3 7:00","a":0.18},{"t":"2018/10/3 12:00","a":0.7},{"t":"2018/10/3 17:00","a":0.3},{"t":"2018/10/3 22:00","a":0.45},{"t":"2018/10/4 2:00","a":0.9},{"t":"2018/10/4 7:00","a":0.15},{"t":"2018/10/4 12:00","a":0.6},{"t":"2018/10/4 17:00","a":0.25},{"t":"2018/10/4 22:00","a":0.4},{"t":"2018/10/5 3:00","a":0.5},{"t":"2018/10/5 9:00","a":0.14},{"t":"2018/10/5 15:00","a":0.35},{"t":"2018/10/5 21:00","a":0.22},{"t":"2018/10/6 3:00","a":0.6},{"t":"2018/10/6 9:00","a":0.18},{"t":"2018/10/6 15:00","a":0.4},{"t":"2018/10/6 21:00","a":0.28},{"t":"2018/10/7 2:00","a":0.7},{"t":"2018/10/7 7:00","a":0.16},{"t":"2018/10/7 12:00","a":0.5},{"t":"2018/10/7 17:00","a":0.25},{"t":"2018/10/7 22:00","a":0.35},{"t":"2018/10/8 2:00","a":0.8},{"t":"2018/10/8 6:00","a":0.13},{"t":"2018/10/8 10:00","a":0.55},{"t":"2018/10/8 14:00","a":0.3},{"t":"2018/10/8 18:00","a":0.4},{"t":"2018/10/8 22:00","a":0.2},
{"t":"2018/10/9 1:00","a":11},{"t":"2018/10/9 3:00","a":0.22},{"t":"2018/10/9 5:00","a":3.2},{"t":"2018/10/9 7:00","a":0.4},{"t":"2018/10/9 9:00","a":1.5},{"t":"2018/10/9 11:00","a":0.15},{"t":"2018/10/9 13:00","a":1.2},{"t":"2018/10/9 15:00","a":0.5},{"t":"2018/10/9 17:00","a":0.9},{"t":"2018/10/9 19:00","a":0.3},{"t":"2018/10/9 21:00","a":0.7},
{"t":"2018/10/10 1:00","a":1.0},{"t":"2018/10/10 5:00","a":0.2},{"t":"2018/10/10 8:00","a":0.7},{"t":"2018/10/10 12:00","a":0.12},{"t":"2018/10/10 15:00","a":0.5},{"t":"2018/10/10 19:00","a":0.28},{"t":"2018/10/10 22:00","a":0.38},{"t":"2018/10/11 2:00","a":1.5},{"t":"2018/10/11 6:00","a":0.14},{"t":"2018/10/11 10:00","a":0.9},{"t":"2018/10/11 14:00","a":0.3},{"t":"2018/10/11 18:00","a":0.6},{"t":"2018/10/11 22:00","a":0.42},{"t":"2018/10/12 1:00","a":2.2},{"t":"2018/10/12 4:00","a":0.2},{"t":"2018/10/12 7:00","a":1.3},{"t":"2018/10/12 10:00","a":0.1},{"t":"2018/10/12 13:00","a":0.8},{"t":"2018/10/12 16:00","a":0.3},{"t":"2018/10/12 19:00","a":0.55},{"t":"2018/10/12 22:00","a":0.4},
{"t":"2018/10/13 2:00","a":0.8},{"t":"2018/10/13 7:00","a":0.12},{"t":"2018/10/13 12:00","a":0.5},{"t":"2018/10/13 17:00","a":0.25},{"t":"2018/10/13 22:00","a":0.35},{"t":"2018/10/14 3:00","a":0.6},{"t":"2018/10/14 9:00","a":0.1},{"t":"2018/10/14 15:00","a":0.4},{"t":"2018/10/14 21:00","a":0.25},{"t":"2018/10/15 4:00","a":0.35},{"t":"2018/10/15 12:00","a":0.11},{"t":"2018/10/15 20:00","a":0.2},{"t":"2018/10/16 6:00","a":0.3},{"t":"2018/10/16 18:00","a":0.18},{"t":"2018/10/18 6:00","a":0.45},{"t":"2018/10/18 18:00","a":0.3},{"t":"2018/10/19 4:00","a":0.6},{"t":"2018/10/19 12:00","a":0.25},{"t":"2018/10/19 20:00","a":0.4},{"t":"2018/10/20 6:00","a":0.35},{"t":"2018/10/20 18:00","a":0.2},{"t":"2018/10/21 4:00","a":0.5},{"t":"2018/10/21 12:00","a":0.1},{"t":"2018/10/21 20:00","a":0.3},{"t":"2018/10/22 6:00","a":0.55},{"t":"2018/10/22 18:00","a":0.4},{"t":"2018/10/23 4:00","a":0.5},{"t":"2018/10/23 12:00","a":0.2},{"t":"2018/10/23 20:00","a":0.35},{"t":"2018/10/24 4:00","a":0.45},{"t":"2018/10/24 12:00","a":0.15},{"t":"2018/10/24 20:00","a":0.3},
{"t":"2018/10/25 3:00","a":3.0},{"t":"2018/10/25 9:00","a":0.25},{"t":"2018/10/25 15:00","a":0.6},{"t":"2018/10/25 21:00","a":0.4},{"t":"2018/10/26 3:00","a":0.9},{"t":"2018/10/26 9:00","a":0.1},{"t":"2018/10/26 15:00","a":0.5},{"t":"2018/10/26 21:00","a":0.3},{"t":"2018/10/27 1:00","a":2.7},{"t":"2018/10/27 5:00","a":0.2},{"t":"2018/10/27 8:00","a":1.8},{"t":"2018/10/27 12:00","a":0.12},{"t":"2018/10/27 15:00","a":0.8},{"t":"2018/10/27 19:00","a":0.35},{"t":"2018/10/27 22:00","a":0.5},{"t":"2018/10/28 2:00","a":0.9},{"t":"2018/10/28 7:00","a":0.1},{"t":"2018/10/28 12:00","a":0.6},{"t":"2018/10/28 17:00","a":0.25},{"t":"2018/10/28 22:00","a":0.4},{"t":"2018/10/29 2:00","a":1.4},{"t":"2018/10/29 7:00","a":0.15},{"t":"2018/10/29 12:00","a":0.7},{"t":"2018/10/29 17:00","a":0.3},{"t":"2018/10/29 22:00","a":0.5},{"t":"2018/10/30 1:00","a":1.2},{"t":"2018/10/30 5:00","a":0.2},{"t":"2018/10/30 8:00","a":1.0},{"t":"2018/10/30 12:00","a":0.13},{"t":"2018/10/30 15:00","a":0.6},{"t":"2018/10/30 19:00","a":0.3},{"t":"2018/10/30 22:00","a":0.45},{"t":"2018/10/31 2:00","a":0.9},{"t":"2018/10/31 6:00","a":0.13},{"t":"2018/10/31 10:00","a":0.6},{"t":"2018/10/31 14:00","a":0.22},{"t":"2018/10/31 18:00","a":0.45},{"t":"2018/10/31 22:00","a":0.3}]
},
"vconcat":[
{"width":1134,"height":160,
"title":{"text":"①湯釜付近の日別地震回数 計数基準:水釜北東UD 1 μ m/s以上、S-P時間1.5秒以内","anchor":"start","frame":"group","dx":44,"offset":-11,"font":"Noto Sans CJK JP","fontSize":30,"fontWeight":"bold","color":"black"},
"data":{"name":"bars"},
"mark":{"type":"bar","color":"black"},
"encoding":{
"x":{"field":"d","type":"temporal","timeUnit":"yearmonthdate","scale":{"domain":[{"year":2018,"month":4,"date":1},{"year":2018,"month":11,"date":1}]},
"axis":{"values":[{"year":2018,"month":4,"date":1},{"year":2018,"month":5,"date":1},{"year":2018,"month":6,"date":1},{"year":2018,"month":7,"date":1},{"year":2018,"month":8,"date":1},{"year":2018,"month":9,"date":1},{"year":2018,"month":10,"date":1},{"year":2018,"month":11,"date":1}],
"labelExpr":"month(datum.value) == 10 ? '' : timeFormat(datum.value, '%Y/%m')","labelFlush":false,"labelOverlap":false,"labelBound":false,"labelFont":"DejaVu Sans Mono","labelFontSize":14,"labelFontWeight":"bold","labelPadding":12,"tickSize":9,"tickWidth":2,"domainWidth":3,"grid":false,
"title":"年/月","titleX":1179,"titleY":26,"titleAngle":0,"titleAlign":"center","titleBaseline":"middle","titleFont":"Noto Sans CJK JP","titleFontSize":15,"titleFontWeight":"normal"}},
"y":{"field":"n","type":"quantitative","scale":{"domain":[0,200]},
"axis":{"values":[0,50,100,150,200],"grid":true,"gridDash":[2,2],"gridColor":"black","gridWidth":1,"gridOpacity":1,"tickSize":7,"tickWidth":2,"domainWidth":3,"labelFont":"DejaVu Sans Mono","labelFontSize":15,"labelFontWeight":"bold","labelPadding":12,
"title":"回","titleX":-44,"titleY":-19,"titleAngle":0,"titleAlign":"center","titleBaseline":"middle","titleFont":"Noto Sans CJK JP","titleFontSize":14,"titleFontWeight":"bold"}}
}},
{"width":1134,"height":163,
"title":{"text":"②湯釜付近の地震の最大振幅とその振幅積算（青葉山西UD）","anchor":"start","frame":"group","dx":19,"offset":-34,"font":"Noto Sans CJK JP","fontSize":30,"fontWeight":"bold","color":"black"},
"layer":[
{"data":{"name":"pts"},"mark":{"type":"point","shape":"circle","filled":false,"color":"black","size":50,"strokeWidth":1.3,"opacity":1,"clip":true},
"encoding":{
"x":{"field":"t","type":"temporal","scale":{"domain":[{"year":2018,"month":4,"date":1},{"year":2018,"month":11,"date":1}]},
"axis":{"values":[{"year":2018,"month":4,"date":1},{"year":2018,"month":5,"date":1},{"year":2018,"month":6,"date":1},{"year":2018,"month":7,"date":1},{"year":2018,"month":8,"date":1},{"year":2018,"month":9,"date":1},{"year":2018,"month":10,"date":1},{"year":2018,"month":11,"date":1}],
"labelExpr":"month(datum.value) == 10 ? '' : timeFormat(datum.value, '%Y/%m')","labelFlush":false,"labelOverlap":false,"labelBound":false,"labelFont":"DejaVu Sans Mono","labelFontSize":14,"labelFontWeight":"bold","labelPadding":13,"tickSize":7,"tickWidth":2,"domainWidth":3,"grid":false,
"title":"年/月","titleX":1179,"titleY":24,"titleAngle":0,"titleAlign":"center","titleBaseline":"middle","titleFont":"Noto Sans CJK JP","titleFontSize":15,"titleFontWeight":"normal"}},
"y":{"field":"a","type":"quantitative","scale":{"type":"log","domain":[0.1,100]},
"axis":{"values":[0.1,1,10,100],"format":"~g","grid":true,"gridColor":"#9a9a9a","gridWidth":1,"tickSize":4,"tickWidth":1,"domainWidth":3,"labelFont":"DejaVu Sans","labelFontSize":13,"labelPadding":2,
"title":"μm/s","titleX":-44,"titleY":-31,"titleAngle":0,"titleAlign":"center","titleBaseline":"middle","titleFont":"DejaVu Sans","titleFontSize":12,"titleFontWeight":"normal"}}
}},
{"data":{"name":"cum"},"mark":{"type":"line","color":"#c9463d","strokeWidth":2},
"encoding":{
"x":{"field":"t","type":"temporal","axis":{"tickCount":{"interval":"day","step":1},"labels":false,"domain":false,"grid":false,"tickSize":3,"tickWidth":1,"tickColor":"#333333","offset":2,"title":null}},
"y":{"field":"c","type":"quantitative","scale":{"domain":[0,2000]},
"axis":{"orient":"right","values":[0,2000],"format":"d","grid":false,"ticks":false,"domainWidth":2,"labelFont":"DejaVu Sans","labelFontSize":13,"labelPadding":12,
"title":"μm/s","titleX":24,"titleY":-31,"titleAngle":0,"titleAlign":"center","titleBaseline":"middle","titleFont":"DejaVu Sans","titleFontSize":12,"titleFontWeight":"normal"}}
}}
],
"resolve":{"scale":{"y":"independent"},"axis":{"x":"independent"}}
}
]
}
